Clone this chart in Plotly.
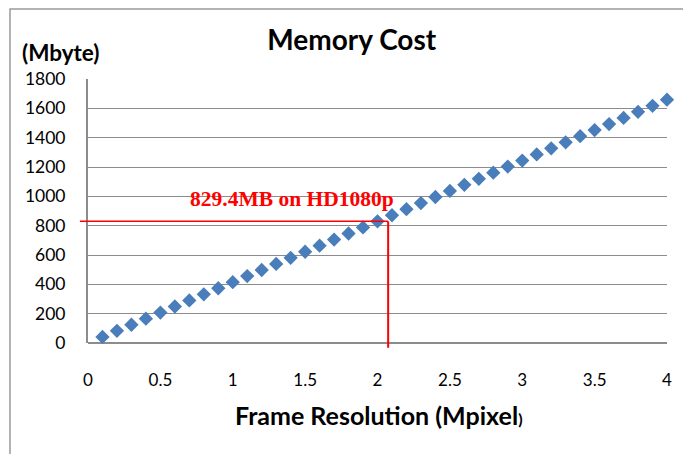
import plotly.graph_objects as go

# Frame resolution (Mpixel) and memory cost (Mbyte)
resolution = [0.1, 0.2, 0.3, 0.4, 0.5, 0.6, 0.7, 0.8, 0.9, 1.0,
              1.1, 1.2, 1.3, 1.4, 1.5, 1.6, 1.7, 1.8, 1.9, 2.0,
              2.1, 2.2, 2.3, 2.4, 2.5, 2.6, 2.7, 2.8, 2.9, 3.0,
              3.1, 3.2, 3.3, 3.4, 3.5, 3.6, 3.7, 3.8, 3.9, 4.0]
memory_mb = [41.5, 82.9, 124.4, 165.9, 207.4, 248.8, 290.3, 331.8, 373.2, 414.7,
             456.2, 497.6, 539.1, 580.6, 622.1, 663.5, 705.0, 746.5, 787.9, 829.4,
             870.9, 912.3, 953.8, 995.3, 1036.8, 1078.2, 1119.7, 1161.2, 1202.6, 1244.1,
             1285.6, 1327.0, 1368.5, 1410.0, 1451.5, 1492.9, 1534.4, 1575.9, 1617.3, 1658.8]

x_ticks = [0, 0.5, 1, 1.5, 2, 2.5, 3, 3.5, 4]
x_tick_text = ["0", "0.5", "1", "1.5", "2", "2.5", "3", "3.5", "4"]
y_ticks = [0, 200, 400, 600, 800, 1000, 1200, 1400, 1600, 1800]

# HD1080p reference point
hd_res = 1920 * 1080 / 1e6
hd_mem = 829.4

X_RANGE = [0, 4]
Y_RANGE = [0, 1800]

def px(x):
    return (x - X_RANGE[0]) / (X_RANGE[1] - X_RANGE[0])

def py(y):
    return (y - Y_RANGE[0]) / (Y_RANGE[1] - Y_RANGE[0])

FONT = "Lato"
GRID = "#8c8c8c"

fig = go.Figure()
fig.add_trace(go.Scatter(
    x=resolution, y=memory_mb, mode="markers",
    marker=dict(symbol="diamond", size=11, color="#4a7ebb", line=dict(width=0)),
    showlegend=False, cliponaxis=False,
))

shapes = [
    # chart border
    dict(type="rect", xref="paper", yref="paper", x0=-0.1347, x1=1.2, y0=-0.6, y1=1.265,
         line=dict(color="#9a9a9a", width=1.5), fillcolor="rgba(0,0,0,0)", layer="below"),
    # HD1080p guide lines
    dict(type="line", xref="paper", yref="paper", x0=-0.014, x1=px(hd_res),
         y0=py(hd_mem), y1=py(hd_mem), line=dict(color="#ff0000", width=1.5)),
    dict(type="line", xref="paper", yref="paper", x0=px(hd_res), x1=px(hd_res),
         y0=-0.018, y1=py(hd_mem), line=dict(color="#ff0000", width=2)),
]

annotations = [
    dict(text="<b>(Mbyte)</b>", xref="paper", yref="paper", x=-0.117, y=1.1,
         xanchor="left", yanchor="middle", showarrow=False,
         font=dict(family=FONT, size=22.5, color="black")),
    dict(text="<b>Frame Resolution (Mpixel<span style='font-size:16px'>)</span></b>",
         xref="paper", yref="paper", x=0.503, y=-0.273, xanchor="center", yanchor="middle",
         showarrow=False, font=dict(family=FONT, size=25, color="black")),
    dict(text="<b>829.4MB on HD1080p</b>", xref="x", yref="y", x=1.41, y=985,
         xanchor="center", yanchor="middle", showarrow=False,
         font=dict(family="Liberation Serif", size=21.5, color="#ff0000")),
]

fig.update_layout(
    width=683, height=454,
    margin=dict(l=88, r=16, t=79, b=111),
    paper_bgcolor="white", plot_bgcolor="white",
    title=dict(text="<b>Memory Cost</b>", x=0.515, xref="container", xanchor="center",
               y=1 - 40 / 454, yref="container", yanchor="middle",
               font=dict(family=FONT, size=28, color="black")),
    shapes=shapes, annotations=annotations,
    font=dict(family=FONT, size=17, color="black"),
)
fig.update_xaxes(range=X_RANGE, tickvals=x_ticks, ticktext=x_tick_text,
                 showgrid=False, zeroline=False, showline=False,
                 ticks="", ticklabelstandoff=25,
                 tickfont=dict(family=FONT, size=17, color="black"))
fig.update_yaxes(range=Y_RANGE, tickvals=y_ticks, showgrid=True, gridcolor=GRID, gridwidth=1,
                 zeroline=True, zerolinecolor=GRID, zerolinewidth=2,
                 showline=True, linecolor=GRID, linewidth=2,
                 ticks="", ticklabelstandoff=17,
                 tickfont=dict(family=FONT, size=17.5, color="black"))

fig.write_html("out.html")
